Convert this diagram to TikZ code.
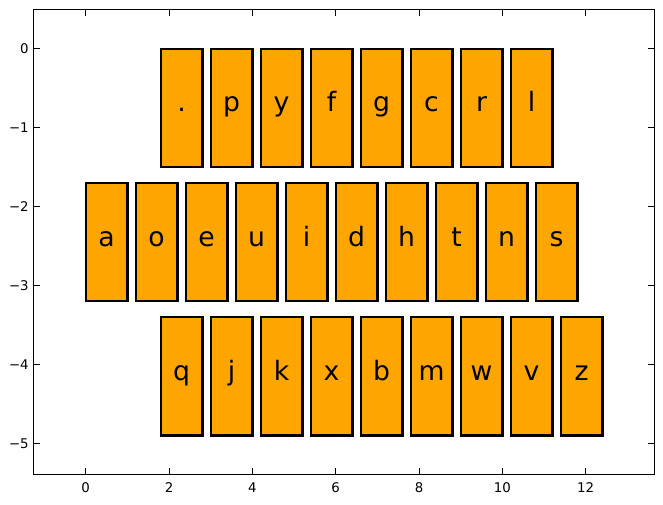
\documentclass[tikz,border=0pt]{standalone}
\usepackage{fontspec}
\setmainfont{DejaVu Sans}
\usetikzlibrary{positioning}
\definecolor{keyorange}{HTML}{FFA500}
\tikzset{
    key/.style = {rectangle,
                  fill=keyorange,
                  draw=black,
                  text=black,
                  line width=1.75pt,
                  outer sep=0pt,
                  inner sep=0pt,
                  minimum width=31.25pt,
                  minimum height=88.8pt,
                  text height=0.8em,
                  text depth=0.2em,
                  font=\fontsize{20}{24}\selectfont},
    frame/.style = {draw=black,
                    line width=0.75pt},
    ticklabel/.style = {text=black,
                        inner sep=0pt,
                        font=\fontsize{10}{12}\selectfont}
}

\begin{document}
\begin{tikzpicture}[x=31.25pt, y=59.2pt, node distance=6.25pt]
        \useasboundingbox (-2.056,-5.77) rectangle (13.856,0.6167);
        % axes
        \draw[frame] (-1.24,-5.39) rectangle (13.64,0.49);
        \foreach \x in {0,2,...,12} {
                \draw[frame] (\x,-5.39) -- ++(0,4.5pt);
                \draw[frame] (\x,0.49) -- ++(0,-4.5pt);
                \node[ticklabel] (xl\x) [below=6.5pt] at (\x,-5.39) {\x};
        }
        \foreach \y/\t in {0/0,-1/−1,-2/−2,-3/−3,-4/−4,-5/−5} {
                \draw[frame] (-1.24,\y) -- ++(4.5pt,0);
                \draw[frame] (13.64,\y) -- ++(-4.5pt,0);
                \node[ticklabel] (yl\t) [left=3.75pt] at (-1.24,\y) {\t};
        }
        % top row
        \node[key]      (dot) at (2.3,-0.75)    {.};
        \node[key]      (p)   [right=of dot]    {p};
        \node[key]      (y)   [right=of p]      {y};
        \node[key]      (f)   [right=of y]      {f};
        \node[key]      (g)   [right=of f]      {g};
        \node[key]      (c)   [right=of g]      {c};
        \node[key]      (r)   [right=of c]      {r};
        \node[key]      (l)   [right=of r]      {l};
        % home row
        \node[key]      (a) at (0.5,-2.45)      {a};
        \node[key]      (o)   [right=of a]      {o};
        \node[key]      (e)   [right=of o]      {e};
        \node[key]      (u)   [right=of e]      {u};
        \node[key]      (i)   [right=of u]      {i};
        \node[key]      (d)   [right=of i]      {d};
        \node[key]      (h)   [right=of d]      {h};
        \node[key]      (t)   [right=of h]      {t};
        \node[key]      (n)   [right=of t]      {n};
        \node[key]      (s)   [right=of n]      {s};
        % bottom row
        \node[key]      (q) at (2.3,-4.15)      {q};
        \node[key]      (j)   [right=of q]      {j};
        \node[key]      (k)   [right=of j]      {k};
        \node[key]      (x)   [right=of k]      {x};
        \node[key]      (b)   [right=of x]      {b};
        \node[key]      (m)   [right=of b]      {m};
        \node[key]      (w)   [right=of m]      {w};
        \node[key]      (v)   [right=of w]      {v};
        \node[key]      (z)   [right=of v]      {z};
\end{tikzpicture}
\end{document}
